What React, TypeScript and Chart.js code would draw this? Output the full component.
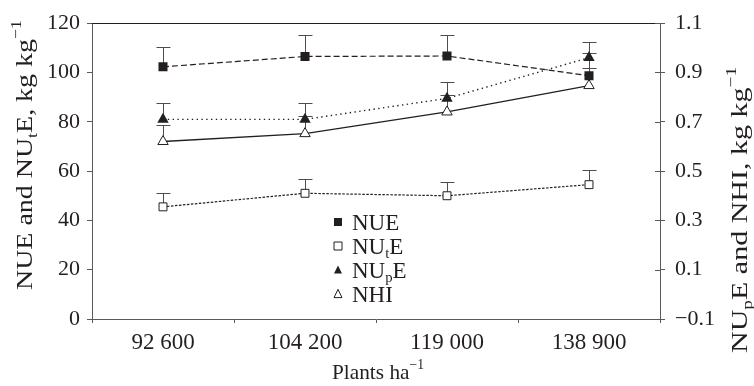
import React, { useEffect, useRef } from "react";
import { Chart, registerables } from "chart.js";

Chart.register(...registerables);

const categories = ["92 600", "104 200", "119 000", "138 900"];
const nue = [102.3, 106.5, 106.7, 98.7];
const nueErr = [8.1, 8.9, 8.7, 9.1];
const nute = [45.5, 51.0, 50.0, 54.5];
const nuteErr = [5.6, 5.8, 5.6, 6.0];
const nupe = [0.71, 0.71, 0.795, 0.96];
const nupeErr = [0.066, 0.065, 0.068, 0.063];
const nhi = [0.62, 0.652, 0.74, 0.847];
const nhiErr = [0.067, 0.07, 0.07, 0.073];
const leftTicks = { min: 0, max: 120, step: 20 };
const rightTicks = { min: -0.1, max: 1.1, step: 0.2 };

const FONT = "'Liberation Serif', 'Times New Roman', serif";
const INK = "#231f20";
const AXIS = "#58595b";

type Seg = [string, "n" | "sub" | "sup"];

function drawRich(
  ctx: CanvasRenderingContext2D,
  segs: Seg[],
  x: number,
  y: number,
  size: number,
  align: "left" | "center",
  target?: number
) {
  const small = size * 0.64;
  let total = 0;
  const widths: number[] = [];
  for (const [t, k] of segs) {
    ctx.font = `${k === "n" ? size : small}px ${FONT}`;
    const w = ctx.measureText(t).width;
    widths.push(w);
    total += w;
  }
  const sx = target ? target / total : 1;
  const start = align === "center" ? x - (total * sx) / 2 : x;
  ctx.save();
  ctx.translate(start, y);
  ctx.scale(sx, 1);
  ctx.textAlign = "left";
  ctx.textBaseline = "alphabetic";
  let cx = 0;
  segs.forEach(([t, k], i) => {
    ctx.font = `${k === "n" ? size : small}px ${FONT}`;
    const dy = k === "sub" ? size * 0.2 : k === "sup" ? -size * 0.45 : 0;
    ctx.fillText(t, cx, dy);
    cx += widths[i];
  });
  ctx.restore();
}

function marker(ctx: CanvasRenderingContext2D, kind: string, x: number, y: number, s: number) {
  ctx.beginPath();
  if (kind.startsWith("sq")) {
    ctx.rect(x - s / 2, y - s / 2, s, s);
  } else {
    const h = s * 0.9;
    ctx.moveTo(x, y - h / 2 - 1);
    ctx.lineTo(x + s / 2, y + h / 2);
    ctx.lineTo(x - s / 2, y + h / 2);
    ctx.closePath();
  }
  if (kind.endsWith("F")) {
    ctx.fillStyle = INK;
    ctx.fill();
  } else {
    ctx.fillStyle = "#fff";
    ctx.fill();
    ctx.strokeStyle = INK;
    ctx.lineWidth = 1;
    ctx.stroke();
  }
}

const errorsByDataset = [nueErr, nuteErr, nupeErr, nhiErr];

const overlay = {
  id: "overlay",
  beforeDatasetsDraw(chart: any) {
    const ctx: CanvasRenderingContext2D = chart.ctx;
    const xs = chart.scales.x;
    ctx.save();
    ctx.strokeStyle = "#4d4d4f";
    ctx.lineWidth = 1;
    chart.data.datasets.forEach((ds: any, i: number) => {
      const ys = chart.scales[ds.yAxisID];
      const errs = errorsByDataset[i];
      ds.data.forEach((v: number, j: number) => {
        const x = Math.round(xs.getPixelForValue(j)) + 0.5;
        const y0 = ys.getPixelForValue(v);
        const y1 = Math.round(ys.getPixelForValue(v + errs[j])) + 0.5;
        ctx.beginPath();
        ctx.moveTo(x, y0);
        ctx.lineTo(x, y1);
        ctx.moveTo(x - 7, y1);
        ctx.lineTo(x + 7, y1);
        ctx.stroke();
      });
    });
    ctx.restore();
  },
  afterDraw(chart: any) {
    const ctx: CanvasRenderingContext2D = chart.ctx;
    const a = chart.chartArea;
    ctx.save();
    // top border
    ctx.strokeStyle = INK;
    ctx.lineWidth = 1;
    ctx.beginPath();
    ctx.moveTo(a.left, Math.round(a.top) + 0.5);
    ctx.lineTo(a.right, Math.round(a.top) + 0.5);
    ctx.stroke();
    // right axis ticks crossing inward
    const yr = chart.scales.y1;
    ctx.strokeStyle = AXIS;
    yr.ticks.forEach((t: any) => {
      const y = Math.round(yr.getPixelForValue(t.value)) + 0.5;
      ctx.beginPath();
      ctx.moveTo(a.right - 5, y);
      ctx.lineTo(a.right, y);
      ctx.stroke();
    });
    ctx.fillStyle = INK;
    // left title
    ctx.save();
    ctx.translate(32, 155);
    ctx.rotate(-Math.PI / 2);
    drawRich(ctx, [["NUE and NU", "n"], ["t", "sub"], ["E, kg kg", "n"], ["\u22121", "sup"]], 0, 0, 24, "center", 270);
    ctx.restore();
    // right title
    ctx.save();
    ctx.translate(747, 210);
    ctx.rotate(-Math.PI / 2);
    drawRich(ctx, [["NU", "n"], ["p", "sub"], ["E and NHI, kg kg", "n"], ["\u22121", "sup"]], 0, 0, 24, "center", 286);
    ctx.restore();
    // x title
    drawRich(ctx, [["Plants ha", "n"], ["\u22121", "sup"]], 378, 379, 22, "center", 92);
    // legend
    const rows: { k: string; segs: Seg[]; y: number }[] = [
      { k: "sqF", segs: [["NUE", "n"]], y: 222 },
      { k: "sqO", segs: [["NU", "n"], ["t", "sub"], ["E", "n"]], y: 246 },
      { k: "trF", segs: [["NU", "n"], ["p", "sub"], ["E", "n"]], y: 270 },
      { k: "trO", segs: [["NHI", "n"]], y: 294 },
    ];
    rows.forEach((r) => {
      marker(ctx, r.k, 338, r.y, 8);
      ctx.fillStyle = INK;
      drawRich(ctx, r.segs, 352, r.y + 7.5, 23, "left");
    });
    ctx.restore();
  },
};

export default function App() {
  const ref = useRef<HTMLCanvasElement>(null);
  useEffect(() => {
    document.body.style.margin = "0";
    const ctx = ref.current!.getContext("2d")!;
    const chart = new Chart(ctx, {
      type: "line",
      data: {
        labels: categories,
        datasets: [
          {
            label: "NUE",
            data: nue,
            yAxisID: "y",
            borderColor: INK,
            borderWidth: 1.2,
            borderDash: [6, 3],
            pointStyle: "rect",
            pointRadius: 6.4,
            pointBackgroundColor: INK,
            pointBorderColor: INK,
            pointBorderWidth: 0,
            fill: false,
          },
          {
            label: "NUtE",
            data: nute,
            yAxisID: "y",
            borderColor: INK,
            borderWidth: 1.2,
            borderDash: [2.5, 1.5],
            pointStyle: "rect",
            pointRadius: 5.6,
            pointBackgroundColor: "#fff",
            pointBorderColor: INK,
            pointBorderWidth: 1,
            fill: false,
          },
          {
            label: "NUpE",
            data: nupe,
            yAxisID: "y1",
            borderColor: INK,
            borderWidth: 1.4,
            borderDash: [1.4, 3.4],
            pointStyle: "triangle",
            pointRadius: 6.6,
            pointBackgroundColor: INK,
            pointBorderColor: INK,
            pointBorderWidth: 0,
            fill: false,
          },
          {
            label: "NHI",
            data: nhi,
            yAxisID: "y1",
            borderColor: INK,
            borderWidth: 1.3,
            pointStyle: "triangle",
            pointRadius: 6,
            pointBackgroundColor: "#fff",
            pointBorderColor: INK,
            pointBorderWidth: 1,
            fill: false,
          },
        ],
      },
      options: {
        animation: false,
        responsive: false,
        maintainAspectRatio: false,
        layout: { padding: { top: 21, left: 0, right: 0, bottom: 0 } },
        plugins: { legend: { display: false }, tooltip: { enabled: false } },
        scales: {
          x: {
            type: "category",
            offset: true,
            grid: { display: true, drawOnChartArea: false, drawTicks: true, tickLength: 4, color: AXIS, offset: true },
            border: { display: true, color: AXIS, width: 1 },
            ticks: { color: INK, font: { family: FONT, size: 23 }, padding: 6, maxRotation: 0, autoSkip: false },
            afterFit: (s: any) => {
              s.height = 67;
            },
          },
          y: {
            position: "left",
            min: leftTicks.min,
            max: leftTicks.max,
            grid: { display: true, drawOnChartArea: false, drawTicks: true, tickLength: 5, color: AXIS },
            border: { display: true, color: AXIS, width: 1 },
            ticks: { stepSize: leftTicks.step, color: INK, font: { family: FONT, size: 22 }, padding: 7 },
            afterFit: (s: any) => {
              s.width = 92;
            },
          },
          y1: {
            position: "right",
            min: rightTicks.min,
            max: rightTicks.max,
            grid: { display: true, drawOnChartArea: false, drawTicks: true, tickLength: 5, color: AXIS },
            border: { display: true, color: AXIS, width: 1 },
            ticks: {
              stepSize: rightTicks.step,
              color: INK,
              font: { family: FONT, size: 22 },
              padding: 10,
              callback: (v: any) => {
                const n = Number(v);
                return (n < -1e-9 ? "\u2212" : "") + Math.abs(n).toFixed(1);
              },
            },
            afterFit: (s: any) => {
              s.width = 94;
            },
          },
        },
      },
      plugins: [overlay],
    });
    return () => chart.destroy();
  }, []);
  return (
    <div style={{ position: "absolute", left: 0, top: 0, width: 754, height: 386 }}>
      <canvas ref={ref} width={754} height={386} style={{ width: 754, height: 386, display: "block" }} />
    </div>
  );
}
